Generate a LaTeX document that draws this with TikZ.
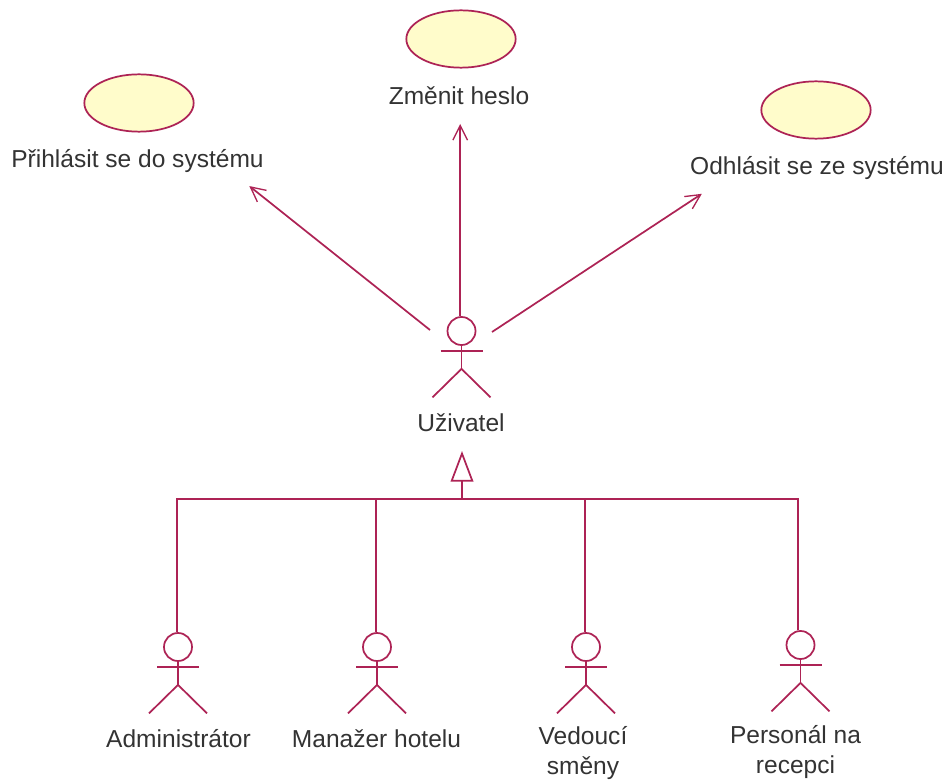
\documentclass[tikz,border=0pt]{standalone}
\usepackage{fontspec}
\setmainfont{Liberation Sans}
\usetikzlibrary{shapes,positioning,calc,arrows.meta}
\definecolor{rosered}{HTML}{AD2355}
\definecolor{roseyellow}{HTML}{FFFCCB}
\tikzset{
    usecase/.style={draw=rosered, fill=roseyellow, ellipse, line width=1.3pt, minimum width=82pt, minimum height=43pt, inner sep=0pt},
    head/.style={draw=rosered, circle, line width=1.3pt, minimum size=21pt, inner sep=0pt},
    limb/.style={draw=rosered, line width=1.3pt},
    assoc/.style={limb, -{Straight Barb[length=11pt,width=11pt,line width=1pt]}},
    gen/.style={limb, -{Triangle[open,length=23pt,width=17pt,fill=white]}},
    caption/.style={font=\fontsize{18.4}{22.5}\selectfont, text=black!80, align=center, inner sep=0pt, outer sep=0pt, minimum height=24pt},
}
% stick figure: name, x, y of the head
\newcommand{\actor}[3]{
    \node[head] (#1) at (#2,#3) {};
    \draw[limb] (#1.south) -- +(0,23) coordinate (#1hip);
    \draw[limb] ($(#1.south)+(-21,5)$) -- +(42,0);
    \draw[limb] (#1hip) -- +(-29,28.5);
    \draw[limb] (#1hip) -- +(29,28.5);
}
\begin{document}
\begin{tikzpicture}[x=0.75pt,y=-0.75pt]
    \useasboundingbox (0,0) rectangle (946,780);

    % use cases
    \node[usecase] (login) at (139,103) {};
    \node[usecase] (passwd) at (461,39) {};
    \node[usecase] (logout) at (816,110) {};
    \node[caption] (loginT) at (137.5,161.5) {Přihlásit se do systému};
    \node[caption] (passwdT) at (459,96) {Změnit heslo};
    \node[caption] (logoutT) at (817,168.5) {Odhlásit se ze systému};

    % actors
    \actor{user}{461.5}{331}
    \actor{admin}{178}{647}
    \actor{manager}{377}{647}
    \actor{shift}{586}{647}
    \actor{staff}{800.5}{645}
    \node[caption] (userT) at (461,423) {Uživatel};
    \node[caption] (adminT) at (178.5,739) {Administrátor};
    \node[caption] (managerT) at (376.5,739) {Manažer hotelu};
    \node[caption] (shiftT) at (583,753) {Vedoucí\\směny};
    \node[caption] (staffT) at (795.5,752) {Personál na\\recepci};

    % associations
    \coordinate (userL) at (430,330);
    \coordinate (userR) at (492,332);
    \draw[assoc, shorten >=10.3pt] (userL) -- (loginT.-9.6);
    \draw[assoc, shorten >=9pt] (user.95) -- (user.95 |- passwdT.south);
    \draw[assoc, shorten >=12.7pt] (userR) -- (logoutT.189.08);

    % generalization
    \coordinate (bar) at (462,499);
    \coordinate (top) at (462,451);
    \draw[gen] (bar) -- (top);
    \draw[limb] (admin.95) |- (bar);
    \draw[limb] (manager.95) |- (bar);
    \draw[limb] (shift.95) |- (bar);
    \draw[limb] (staff.100) |- (bar);
\end{tikzpicture}
\end{document}
